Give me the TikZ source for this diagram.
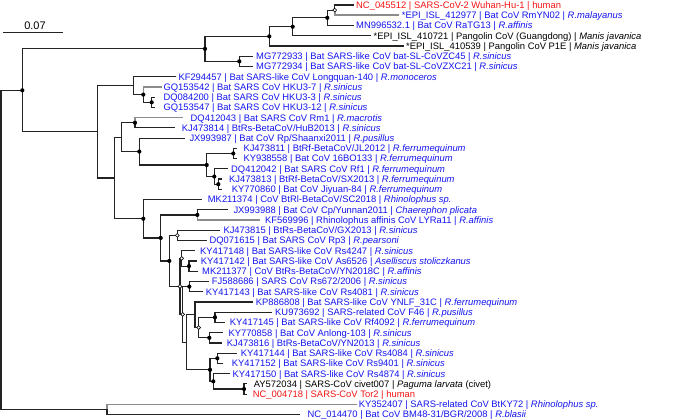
\documentclass[tikz,border=0pt]{standalone}
\usepackage{fontspec}
\setmainfont{Liberation Sans}
\definecolor{tblue}{RGB}{20,20,240}
\definecolor{tred}{RGB}{245,20,20}
\definecolor{brc}{RGB}{35,35,35}
\definecolor{gbrc}{RGB}{140,140,140}
\newcommand\labfs{\fontsize{9.4}{10}\selectfont}
\tikzset{
  br/.style={draw=brc, line width=1.2pt},
  gbr/.style={draw=gbrc, line width=1.6pt},
  lab/.style={anchor=west, inner sep=0pt, text height=6.75pt, text depth=0pt, font=\labfs},
  blu/.style={lab, text=tblue},
  rd/.style={lab, text=tred},
  blk/.style={lab, text=black},
  fd/.style={fill=black},
  od/.style={draw=black, fill=white, line width=0.6pt},
}
\begin{document}
\begin{tikzpicture}[x=1pt,y=-1pt]
\useasboundingbox (0,0) rectangle (685,419);
% internal nodes
\coordinate (root) at (1,249.9);
\coordinate (A) at (22.3,90.32);
\coordinate (O) at (107,409.48);
\coordinate (B) at (205,48.84);
\coordinate (C) at (97.7,131.8);
\coordinate (P1E) at (269.3,36.36);
\coordinate (GD) at (292.7,26.76);
\coordinate (RaTG) at (327.3,17.8);
\coordinate (P1) at (334.7,10.12);
\coordinate (ZC) at (239.3,61.32);
\coordinate (H1) at (133.3,85.64);
\coordinate (H2) at (143.3,94.6);
\coordinate (H3) at (151.7,102.28);
\coordinate (D) at (114.3,177.95);
\coordinate (E) at (121.7,137.16);
\coordinate (Rm1) at (135,122.76);
\coordinate (JX) at (139.3,151.56);
\coordinate (Rf) at (206.7,165);
\coordinate (JL) at (233.3,153.48);
\coordinate (Rf1) at (214.3,176.52);
\coordinate (SX) at (218.3,184.2);
\coordinate (F) at (143.3,218.74);
\coordinate (G) at (160.7,237.92);
\coordinate (Cp) at (197.3,214.92);
\coordinate (H) at (169.3,260.92);
\coordinate (Rp3) at (177.3,235.4);
\coordinate (X) at (180,286.44);
\coordinate (R4247) at (181.7,258.44);
\coordinate (As) at (189,266.12);
\coordinate (M) at (182.7,314.44);
\coordinate (R672) at (189.3,286.6);
\coordinate (N) at (186.7,342.28);
\coordinate (L31C) at (195,314.76);
\coordinate (K) at (198.7,327.56);
\coordinate (F46) at (215,317.32);
\coordinate (An) at (209.3,337.8);
\coordinate (SC) at (210,369.8);
\coordinate (R9401) at (217.3,358.28);
\coordinate (R4874) at (213.3,381.32);
\coordinate (Tor) at (244,389);
% leaf tips
\coordinate (t1) at (353.5,5);
\coordinate (t2) at (399.2,15.24);
\coordinate (t3) at (353.5,25.48);
\coordinate (t4) at (371,35.72);
\coordinate (t5) at (403.5,45.96);
\coordinate (t6) at (252.5,56.2);
\coordinate (t7) at (252.5,66.44);
\coordinate (t8) at (176,76.68);
\coordinate (t9) at (161.7,86.92);
\coordinate (t10) at (154.5,97.16);
\coordinate (t11) at (154.5,107.4);
\coordinate (t12) at (183.3,117.64);
\coordinate (t13) at (175,127.88);
\coordinate (t14) at (185,138.12);
\coordinate (t15) at (237,148.36);
\coordinate (t16) at (237,158.6);
\coordinate (t17) at (228.3,168.84);
\coordinate (t18) at (222,179.08);
\coordinate (t19) at (222,189.32);
\coordinate (t20) at (201.7,199.56);
\coordinate (t21) at (228.3,209.8);
\coordinate (t22) at (260,220.04);
\coordinate (t23) at (220,230.28);
\coordinate (t24) at (206.7,240.52);
\coordinate (t25) at (195,250.76);
\coordinate (t26) at (196.7,261);
\coordinate (t27) at (198.3,271.24);
\coordinate (t28) at (209,281.48);
\coordinate (t29) at (203,291.72);
\coordinate (t30) at (253.3,301.96);
\coordinate (t31) at (271.7,312.2);
\coordinate (t32) at (225,322.44);
\coordinate (t33) at (223.3,332.68);
\coordinate (t34) at (221.7,342.92);
\coordinate (t35) at (236.7,353.16);
\coordinate (t36) at (223.3,363.4);
\coordinate (t37) at (230,373.64);
\coordinate (t38) at (247,383.88);
\coordinate (t39) at (247,394.12);
\coordinate (t40) at (356.7,404.36);
\coordinate (t41) at (300,414.6);
% branches
\draw[br] (root) |- (A);
\draw[br] (root) |- (O);
\draw[br] (A) |- (B);
\draw[br] (A) |- (C);
\draw[br] (B) |- (P1E);
\draw[br] (B) |- (ZC);
\draw[br] (P1E) |- (GD);
\draw[br] (P1E) |- (t5);
\draw[br] (GD) |- (RaTG);
\draw[br] (GD) |- (t4);
\draw[br] (RaTG) |- (P1);
\draw[br] (RaTG) |- (t3);
\draw[br] (P1) |- (t1);
\draw[gbr] (P1) |- (t2);
\draw[br] (ZC) |- (t6);
\draw[br] (ZC) |- (t7);
\draw[br] (C) |- (H1);
\draw[br] (C) |- (D);
\draw[br] (H1) |- (t8);
\draw[br] (H1) |- (H2);
\draw[gbr] (H2) |- (t9);
\draw[br] (H2) |- (H3);
\draw[br] (H3) |- (t10);
\draw[br] (H3) |- (t11);
\draw[br] (D) |- (E);
\draw[br] (D) |- (F);
\draw[br] (E) |- (Rm1);
\draw[br] (E) |- (JX);
\draw[gbr] (Rm1) |- (t12);
\draw[br] (Rm1) |- (t13);
\draw[br] (JX) |- (t14);
\draw[br] (JX) |- (Rf);
\draw[br] (Rf) |- (JL);
\draw[br] (Rf) |- (Rf1);
\draw[br] (JL) |- (t15);
\draw[br] (JL) |- (t16);
\draw[br] (Rf1) |- (t17);
\draw[br] (Rf1) |- (SX);
\draw[br] (SX) |- (t18);
\draw[br] (SX) |- (t19);
\draw[br] (F) |- (t20);
\draw[br] (F) |- (G);
\draw[br] (G) |- (Cp);
\draw[br] (G) |- (H);
\draw[br] (Cp) |- (t21);
\draw[gbr] (Cp) |- (t22);
\draw[br] (H) |- (Rp3);
\draw[br] (H) |- (X);
\draw[br] (Rp3) |- (t23);
\draw[br] (Rp3) |- (t24);
\draw[br] (X) |- (R4247);
\draw[br] (X) |- (M);
\draw[br] (R4247) |- (t25);
\draw[br] (R4247) |- (As);
\draw[br] (As) |- (t26);
\draw[br] (As) |- (t27);
\draw[br] (M) |- (R672);
\draw[br] (M) |- (N);
\draw[br] (R672) |- (t28);
\draw[br] (R672) |- (t29);
\draw[br] (N) |- (L31C);
\draw[br] (N) |- (SC);
\draw[br] (L31C) |- (t30);
\draw[br] (L31C) |- (K);
\draw[br] (K) |- (F46);
\draw[br] (K) |- (An);
\draw[br] (F46) |- (t31);
\draw[br] (F46) |- (t32);
\draw[br] (An) |- (t33);
\draw[br] (An) |- (t34);
\draw[br] (SC) |- (R9401);
\draw[br] (SC) |- (R4874);
\draw[br] (R9401) |- (t35);
\draw[br] (R9401) |- (t36);
\draw[br] (R4874) |- (t37);
\draw[br] (R4874) |- (Tor);
\draw[br] (Tor) |- (t38);
\draw[br] (Tor) |- (t39);
\draw[gbr] (O) |- (t40);
\draw[br] (O) |- (t41);
% node markers
\foreach \n in {A,B,ZC,P1E,GD,RaTG,H2,H3,Rm1,JX,Rf,JL,Rf1,SX,F,G,Cp,H,As,R672,F46,An,SC,R9401,R4874,Tor}
  \path[fd] (\n) circle[radius=2.1];
\foreach \n in {P1,Rp3,X,R4247,M,K}
  \path[od] (\n) circle[radius=1.9];
% scale bar
\coordinate (s1) at (3.3,32.3);
\coordinate (s2) at (63.3,32.3);
\draw[br] (s1) -- (s2);
\node[inner sep=0pt, font=\fontsize{11}{12}\selectfont] (sl) at (35,25.5) {0.07};
% labels
\node[rd] (l1) at (356,5) {NC\_045512 | SARS-CoV-2 Wuhan-Hu-1 | human};
\node[blu] (l2) at (401.7,15.24) {*EPI\_ISL\_412977 | Bat CoV RmYN02 | \textit{R.malayanus}};
\node[blu] (l3) at (356,25.48) {MN996532.1 | Bat CoV RaTG13 | \textit{R.affinis}};
\node[blk] (l4) at (373.5,35.72) {*EPI\_ISL\_410721 | Pangolin CoV (Guangdong) | \textit{Manis javanica}};
\node[blk] (l5) at (406,45.96) {*EPI\_ISL\_410539 | Pangolin CoV P1E | \textit{Manis javanica}};
\node[blu] (l6) at (256,56.2) {MG772933 | Bat SARS-like CoV bat-SL-CoVZC45 | \textit{R.sinicus}};
\node[blu] (l7) at (256,66.44) {MG772934 | Bat SARS-like CoV bat-SL-CoVZXC21 | \textit{R.sinicus}};
\node[blu] (l8) at (178.3,76.68) {KF294457 | Bat SARS-like CoV Longquan-140 | \textit{R.monoceros}};
\node[blu] (l9) at (163.3,86.92) {GQ153542 | Bat SARS CoV HKU3-7 | \textit{R.sinicus}};
\node[blu] (l10) at (163.3,97.16) {DQ084200 | Bat SARS CoV HKU3-3 | \textit{R.sinicus}};
\node[blu] (l11) at (163.3,107.4) {GQ153547 | Bat SARS CoV HKU3-12 | \textit{R.sinicus}};
\node[blu] (l12) at (190.5,117.64) {DQ412043 | Bat SARS CoV Rm1 | \textit{R.macrotis}};
\node[blu] (l13) at (181.7,127.88) {KJ473814 | BtRs-BetaCoV/HuB2013 | \textit{R.sinicus}};
\node[blu] (l14) at (189.3,138.12) {JX993987 | Bat CoV Rp/Shaanxi2011 | \textit{R.pusillus}};
\node[blu] (l15) at (243.3,148.36) {KJ473811 | BtRf-BetaCoV/JL2012 | \textit{R.ferrumequinum}};
\node[blu] (l16) at (243.3,158.6) {KY938558 | Bat CoV 16BO133 | \textit{R.ferrumequinum}};
\node[blu] (l17) at (231,168.84) {DQ412042 | Bat SARS CoV Rf1 | \textit{R.ferrumequinum}};
\node[blu] (l18) at (229,179.08) {KJ473813 | BtRf-BetaCoV/SX2013 | \textit{R.ferrumequinum}};
\node[blu] (l19) at (231.7,189.32) {KY770860 | Bat CoV Jiyuan-84 | \textit{R.ferrumequinum}};
\node[blu] (l20) at (207.7,199.56) {MK211374 | CoV BtRl-BetaCoV/SC2018 | \textit{Rhinolophus sp.}};
\node[blu] (l21) at (233.3,209.8) {JX993988 | Bat CoV Cp/Yunnan2011 | \textit{Chaerephon plicata}};
\node[blu] (l22) at (265,220.04) {KF569996 | Rhinolophus affinis CoV LYRa11 | \textit{R.affinis}};
\node[blu] (l23) at (223.3,230.28) {KJ473815 | BtRs-BetaCoV/GX2013 | \textit{R.sinicus}};
\node[blu] (l24) at (209.3,240.52) {DQ071615 | Bat SARS CoV Rp3 | \textit{R.pearsoni}};
\node[blu] (l25) at (200,250.76) {KY417148 | Bat SARS-like CoV Rs4247 | \textit{R.sinicus}};
\node[blu] (l26) at (200.7,261) {KY417142 | Bat SARS-like CoV As6526 | \textit{Aselliscus stoliczkanus}};
\node[blu] (l27) at (202,271.24) {MK211377 | CoV BtRs-BetaCoV/YN2018C | \textit{R.affinis}};
\node[blu] (l28) at (211.7,281.48) {FJ588686 | SARS CoV Rs672/2006 | \textit{R.sinicus}};
\node[blu] (l29) at (205.7,291.72) {KY417143 | Bat SARS-like CoV Rs4081 | \textit{R.sinicus}};
\node[blu] (l30) at (255.7,301.96) {KP886808 | Bat SARS-like CoV YNLF\_31C | \textit{R.ferrumequinum}};
\node[blu] (l31) at (275,312.2) {KU973692 | SARS-related CoV F46 | \textit{R.pusillus}};
\node[blu] (l32) at (229.7,322.44) {KY417145 | Bat SARS-like CoV Rf4092 | \textit{R.ferrumequinum}};
\node[blu] (l33) at (228.3,332.68) {KY770858 | Bat CoV Anlong-103 | \textit{R.sinicus}};
\node[blu] (l34) at (226.7,342.92) {KJ473816 | BtRs-BetaCoV/YN2013 | \textit{R.sinicus}};
\node[blu] (l35) at (240.7,353.16) {KY417144 | Bat SARS-like CoV Rs4084 | \textit{R.sinicus}};
\node[blu] (l36) at (231.7,363.4) {KY417152 | Bat SARS-like CoV Rs9401 | \textit{R.sinicus}};
\node[blu] (l37) at (232.3,373.64) {KY417150 | Bat SARS-like CoV Rs4874 | \textit{R.sinicus}};
\node[blk] (l38) at (253.7,383.88) {AY572034 | SARS-CoV civet007 | \textit{Paguma larvata} (civet)};
\node[rd] (l39) at (252.7,394.12) {NC\_004718 | SARS-CoV Tor2 | human};
\node[blu] (l40) at (358.7,404.36) {KY352407 | SARS-related CoV BtKY72 | \textit{Rhinolophus sp.}};
\node[blu] (l41) at (307.3,414.6) {NC\_014470 | Bat CoV BM48-31/BGR/2008 | \textit{R.blasii}};
\end{tikzpicture}
\end{document}
